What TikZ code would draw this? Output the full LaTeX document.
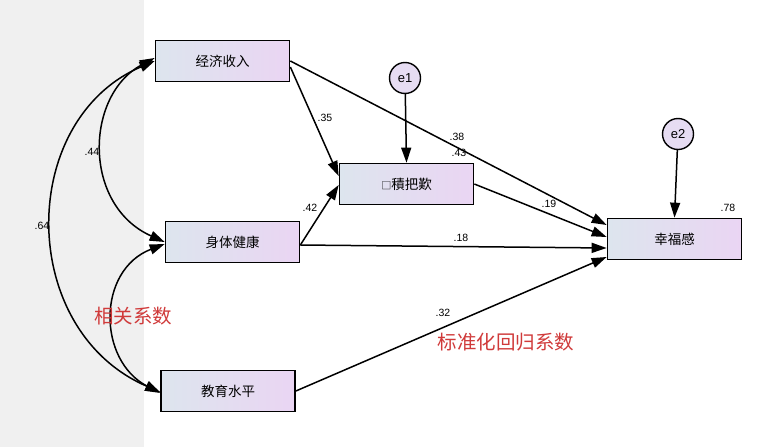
\documentclass[tikz,border=0pt]{standalone}
\usepackage{fontspec}
\setmainfont{Liberation Sans}
\newfontfamily\cjk{Noto Sans CJK SC}
\usetikzlibrary{arrows.meta}
\definecolor{boxleft}{HTML}{DDE5EE}
\definecolor{boxright}{HTML}{EAD5F3}
\definecolor{errfill}{HTML}{E6DCF2}
\definecolor{stripgray}{HTML}{F0F0F0}
\definecolor{annred}{HTML}{D03A3A}
\tikzset{
  varbox/.style={draw=black, line width=1.7pt, minimum width=134pt, minimum height=41pt,
    left color=boxleft, right color=boxright, inner sep=2pt,
    font=\cjk\fontsize{13.5}{15}\selectfont},
  errnode/.style={circle, draw=black, line width=1.4pt, fill=errfill, minimum size=31pt, inner sep=0pt,
    font=\fontsize{13}{15}\selectfont},
  conn/.style={line width=1.5pt, -{Triangle[length=15pt,width=10pt]}},
  corr/.style={line width=1.5pt, {Triangle[length=15pt,width=10pt]}-{Triangle[length=15pt,width=10pt]}},
  coef/.style={inner sep=0pt, font=\fontsize{10.5}{12}\selectfont},
  ann/.style={inner sep=0pt, text=annred, font=\cjk\fontsize{19.5}{22}\selectfont}
}
\begin{document}
\begin{tikzpicture}[x=1pt,y=-1pt]
\useasboundingbox (0,0) rectangle (759,447);
\fill[white] (0,0) rectangle (759,447);
\fill[stripgray] (0,0) rectangle (144,447);

% variables
\node[varbox] (jj) at (222.5,61) {经济收入};
\node[varbox] (st) at (232.5,242) {身体健康};
\node[varbox] (jy) at (228,391) {教育水平};
\node[varbox] (jx) at (406.5,184) {{\fontsize{10}{12}\selectfont □}積把歎};
\node[varbox] (xf) at (674.5,239) {幸福感};
\node[errnode] (e1) at (405,78) {e1};
\node[errnode] (e2) at (678,134) {e2};

% regression paths
\draw[conn] (jj.east) -- ([yshift=14pt]xf.west);
\draw[conn] ([yshift=-6pt]jj.east) -- ([yshift=8pt]jx.west);
\draw[conn] ([yshift=-3pt]st.east) -- ([yshift=-1pt]jx.west);
\draw[conn] ([yshift=-3pt]st.east) -- ([yshift=-9pt]xf.west);
\draw[conn] (jx.east) -- ([yshift=2pt]xf.west);
\draw[conn] (jy.east) -- ([yshift=-18pt]xf.west);
\draw[conn] (e1) -- (jx.north);
\draw[conn] (e2) -- (xf.north);

% correlations
\draw[corr] ([yshift=3pt]jj.west) .. controls (85,95) and (82,205) .. (st.west);
\draw[corr] (jj.west) .. controls (17,120) and (17,330) .. ([yshift=-1pt]jy.west);
\draw[corr] ([yshift=-2pt]st.west) .. controls (97,270) and (97,360) .. ([yshift=-2pt]jy.west);

% coefficients
\node[coef] (c35) at (325,118) {.35};
\node[coef] (c38) at (457,137) {.38};
\node[coef] (c43) at (459,153) {.43};
\node[coef] (c42) at (310,208) {.42};
\node[coef] (c44) at (92,152) {.44};
\node[coef] (c64) at (42,226) {.64};
\node[coef] (c19) at (549,204) {.19};
\node[coef] (c18) at (461,238) {.18};
\node[coef] (c32) at (443,313) {.32};
\node[coef] (c78) at (728,208) {.78};

% annotations
\node[ann] (a1) at (133,316) {相关系数};
\node[ann] (a2) at (506,342) {标准化回归系数};
\end{tikzpicture}
\end{document}
